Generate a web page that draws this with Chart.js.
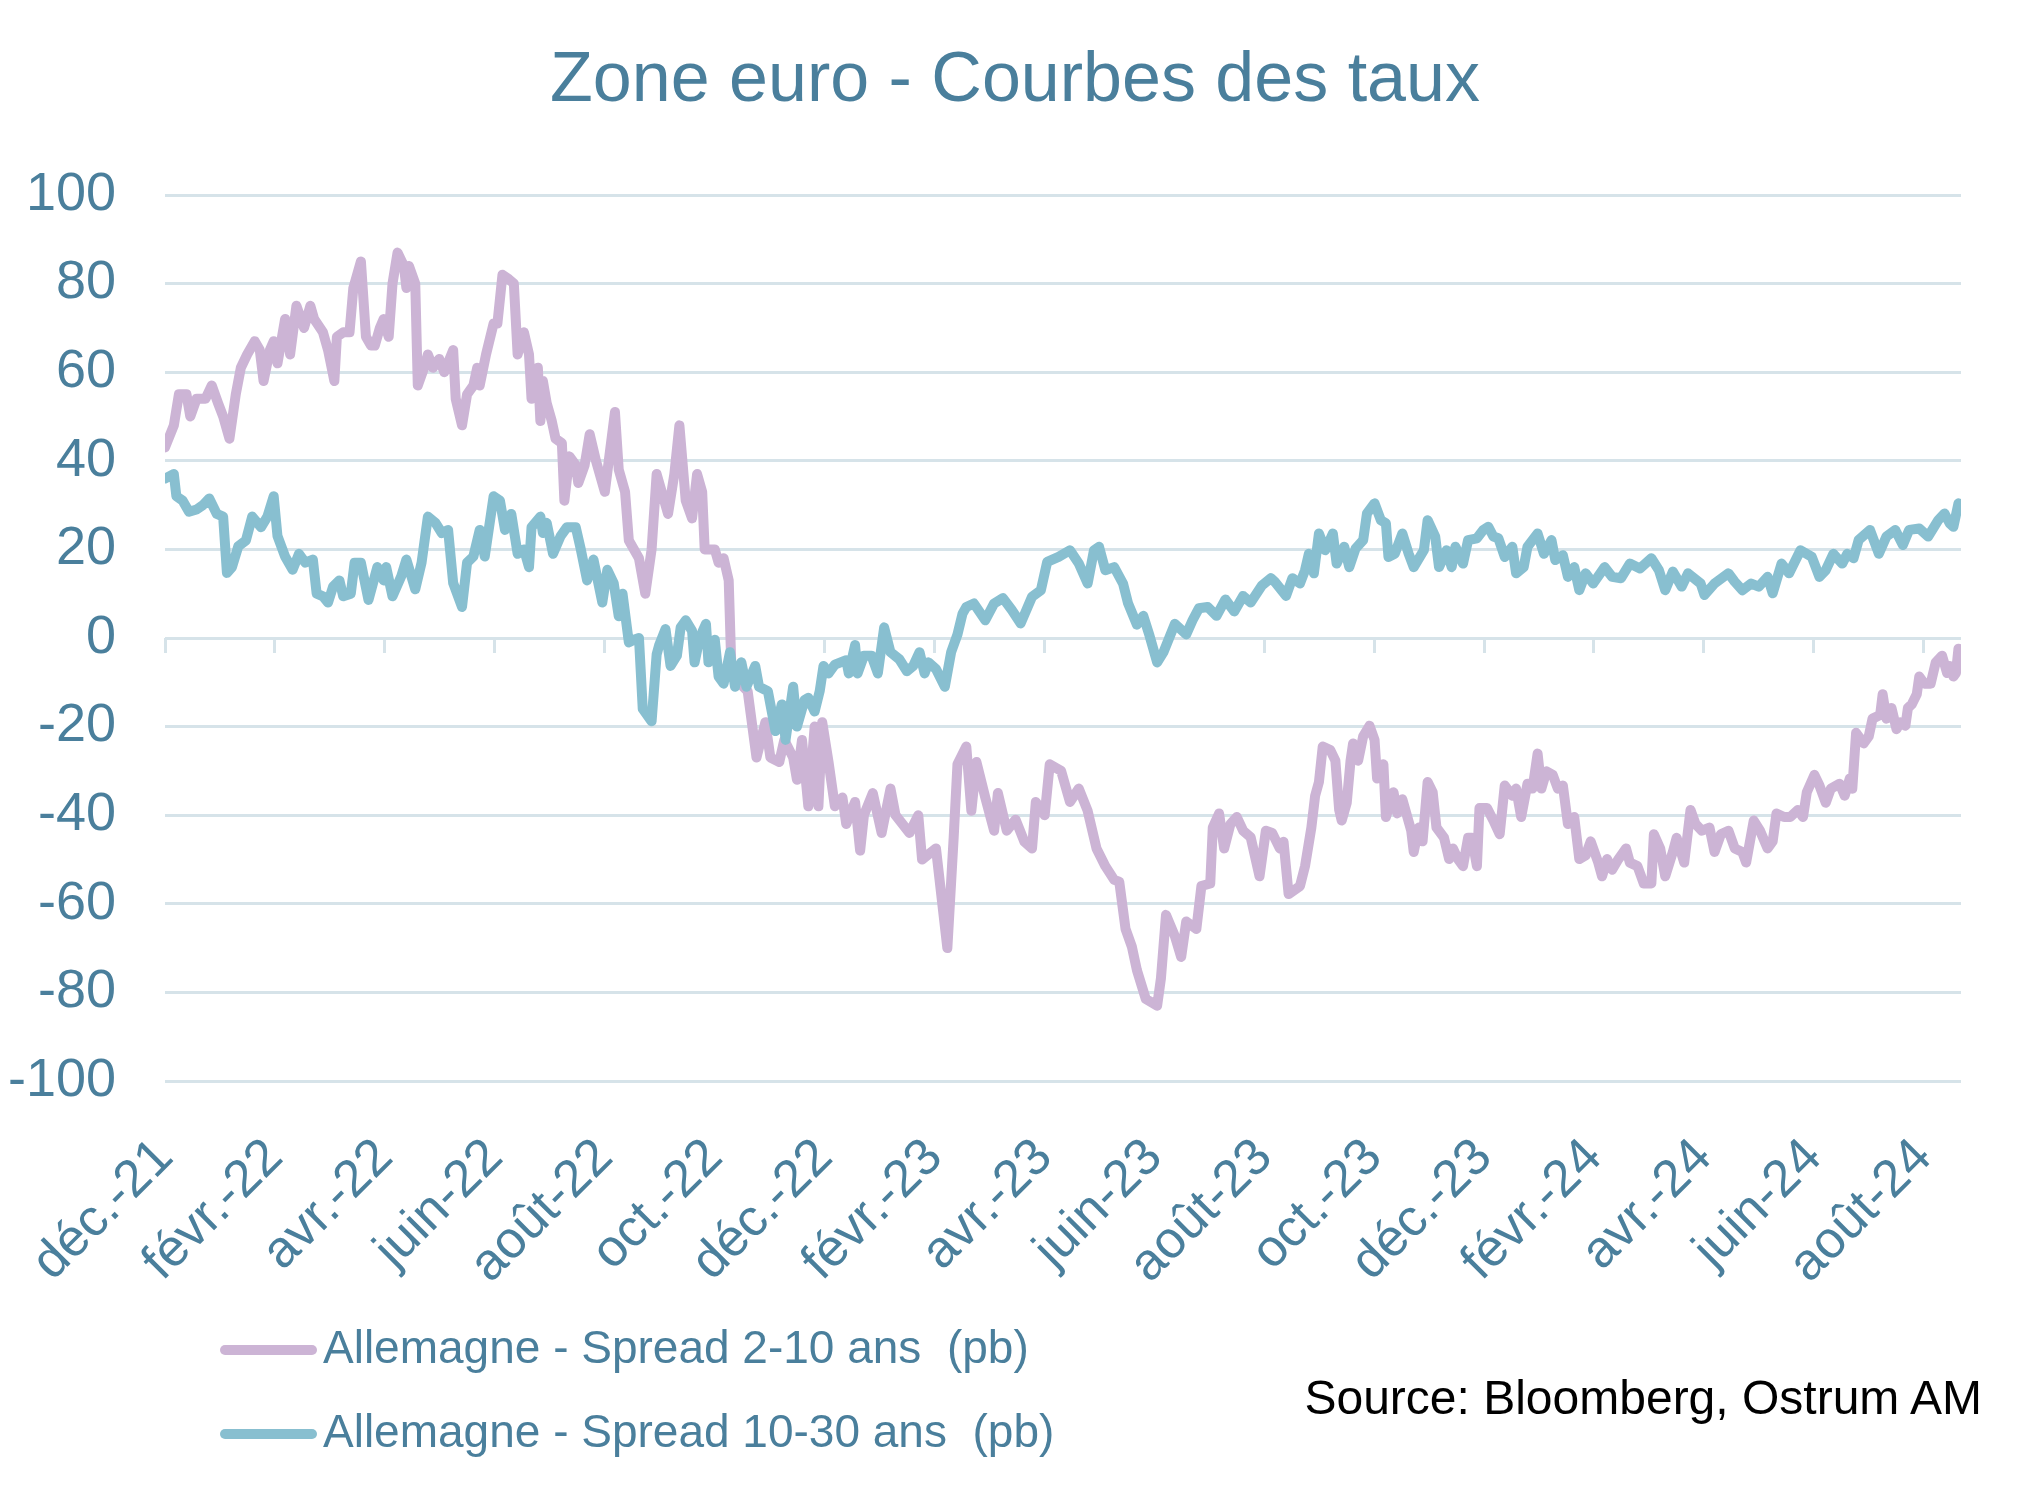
<!DOCTYPE html>
<html lang="fr">
<head>
<meta charset="utf-8">
<title>Zone euro - Courbes des taux</title>
<script src="https://cdn.jsdelivr.net/npm/chart.js@4.4.1/dist/chart.umd.min.js"></script>
<style>
  html, body { margin: 0; padding: 0; background: #ffffff; }
  #wrap { position: relative; width: 2030px; height: 1510px; overflow: hidden; }
  #myChart { position: absolute; left: 0; top: 0; }
  .legend-row { position: absolute; left: 220px; height: 46px; font-family: "Liberation Sans", Arial, sans-serif;
                font-size: 46px; line-height: 46px; color: #4a7f9c; white-space: pre; }
  .legend-line { position: absolute; left: 0; top: 21px; width: 97px; height: 10px; border-radius: 5px; }
  .legend-text { position: absolute; left: 103px; top: 0; }
  #source { position: absolute; right: 48px; top: 1374px; font-family: "Liberation Sans", Arial, sans-serif;
            font-size: 48px; line-height: 48px; color: #000000; white-space: nowrap; }
</style>
</head>
<body>
<div id="wrap">
  <canvas id="myChart" width="2030" height="1510"></canvas>
  <div id="legend"></div>
  <div id="source">Source: Bloomberg, Ostrum AM</div>
</div>
<script>
// libellés de l'axe des x (un tous les 2 mois)
var tickLabels = ['déc.-21', 'févr.-22', 'avr.-22', 'juin-22', 'août-22', 'oct.-22', 'déc.-22', 'févr.-23',
    'avr.-23', 'juin-23', 'août-23', 'oct.-23', 'déc.-23', 'févr.-24', 'avr.-24', 'juin-24', 'août-24'];

var seriesLabels = ['Allemagne - Spread 2-10 ans  (pb)', 'Allemagne - Spread 10-30 ans  (pb)'];

// Spread 2-10 ans : semaines depuis le 1er déc. 2021 et valeurs (pb)
var spread210Weeks = [0, 0.7, 1.1, 1.7, 2, 2.5, 3.2, 3.7, 4.2, 4.6,
    5.1, 5.6, 6, 6.5, 7.1, 7.5, 7.8, 8.3, 8.6, 8.9,
    9.2, 9.5, 9.9, 10.4, 11, 11.5, 11.8, 12.5, 12.9, 13.4,
    13.6, 14.1, 14.6, 14.9, 15.5, 15.9, 16.3, 16.6, 17, 17.3,
    17.7, 18, 18.4, 18.9, 19.1, 19.3, 19.8, 20, 20.5, 20.8,
    21.2, 21.7, 22.1, 22.8, 23, 23.5, 23.9, 24.4, 24.7, 24.9,
    25.4, 26, 26.3, 26.7, 27.2, 27.6, 27.9, 28.4, 28.8, 29,
    29.5, 29.7, 29.9, 30.2, 30.6, 30.9, 31.4, 31.6, 32, 32.5,
    32.7, 33.2, 33.6, 34.1, 34.8, 35.2, 35.6, 35.9, 36.4, 36.7,
    37.5, 38, 38.5, 38.9, 39.8, 40.3, 40.7, 41.2, 41.7, 42.1,
    42.5, 42.7, 43.5, 43.8, 44.2, 44.6, 44.8, 45.4, 46.1, 46.8,
    47.5, 47.9, 48.6, 49, 49.7, 50, 50.4, 50.9, 51.4, 51.7,
    52, 52.5, 53, 53.6, 53.9, 54.6, 55, 55.3, 56, 56.7,
    57.4, 57.8, 58.9, 59.6, 59.9, 61, 61.9, 62.4, 62.7, 63.4,
    63.8, 64.2, 64.9, 65.6, 65.9, 66.6, 67.3, 68, 68.6, 68.9,
    69.6, 70, 70.9, 71.6, 72.3, 73, 73.7, 74.4, 75.1, 75.5,
    76, 76.5, 76.9, 77.6, 78.5, 78.8, 79.2, 79.9, 80.4, 80.8,
    81.6, 82, 82.7, 82.9, 83.4, 83.8, 84.3, 84.8, 85.3, 85.9,
    86.6, 87.1, 87.6, 88.2, 88.5, 88.9, 89.8, 90.2, 90.7, 91,
    91.3, 91.6, 92.2, 92.6, 92.9, 93.1, 93.5, 93.8, 94, 94.4,
    94.8, 95.3, 95.7, 95.9, 96.4, 96.6, 97.2, 97.5, 97.9, 98.6,
    98.8, 99.2, 99.5, 99.9, 100.3, 100.6, 101.2, 101.6, 101.9, 102.3,
    102.7, 103.1, 103.4, 103.8, 104, 104.6, 105.1, 105.6, 106, 106.6,
    106.9, 107.3, 107.8, 108.2, 108.6, 108.9, 109.3, 109.8, 110.2, 110.6,
    111, 111.5, 111.9, 112.4, 112.8, 113.4, 113.7, 114.1, 114.5, 115,
    115.6, 115.9, 116.5, 117, 117.6, 117.8, 118.3, 118.7, 119.3, 119.6,
    120.2, 120.7, 121.1, 121.6, 122.2, 122.6, 123.1, 123.7, 124.2, 124.8,
    125.1, 125.7, 126.2, 126.8, 127.2, 127.5, 128.1, 128.6, 129.2, 129.6,
    129.9, 130.5, 130.9, 131.4, 131.8, 132.5, 132.9, 133.3, 133.5, 133.8,
    134.4, 134.8, 135.1, 135.7, 135.9, 136.2, 136.6, 137, 137.3, 137.7,
    137.9, 138.2, 138.6, 138.8, 139.2, 139.7, 140.1, 140.6, 141, 141.2,
    141.5, 141.7, 141.9];
var spread210 = [43, 48, 55, 55, 50, 54, 54, 57, 53, 50,
    45, 55, 61, 64, 67, 65, 58, 65, 67, 62,
    67, 72, 64, 75, 70, 75, 72, 69, 65, 58,
    68, 69, 69, 79, 85, 68, 66, 66, 70, 72,
    68, 80, 87, 84, 79, 84, 80, 57, 61, 64,
    61, 63, 60, 65, 54, 48, 55, 57, 61, 57,
    64, 71, 71, 82, 81, 80, 64, 69, 64, 54,
    61, 49, 58, 53, 49, 45, 44, 31, 41, 39,
    35, 39, 46, 40, 33, 42, 51, 38, 33, 22,
    18, 10, 20, 37, 28, 37, 48, 31, 27, 37,
    33, 20, 20, 17, 18, 13, -5.5, -10, -12, -27,
    -19, -27, -28, -23, -27, -32, -23, -38, -20, -38,
    -19, -28, -38, -36, -42, -37, -48, -40, -35, -44,
    -34, -40, -44, -40, -50, -47.5, -70, -45, -28.5, -24.5,
    -39, -28, -36, -43.5, -35, -43.5, -41, -46, -47.5, -37,
    -40, -28.5, -30, -37, -34, -39, -47.5, -51.5, -54.6, -55,
    -65.7, -69.7, -75, -81.5, -83, -76.8, -62.5, -67.3, -72, -64,
    -65.7, -56, -55.4, -42.8, -39.6, -47.5, -42, -40.4, -43.5, -45,
    -53.8, -43.5, -44, -47.5, -46, -57.8, -56, -51.5, -42.8, -35.6,
    -32.5, -24.5, -25.3, -27.7, -38.8, -41.2, -37.2, -27.7, -23.8, -27.7,
    -22.2, -19.8, -23, -31.7, -28.5, -40.4, -34.8, -39.6, -36.4, -43.5,
    -48.3, -42.8, -45.9, -32.5, -34.8, -42.8, -45.1, -49.9, -47.5, -49.9,
    -51.5, -45.1, -45.1, -51.5, -38.4, -38.4, -41.2, -44.3, -33.3, -35.6,
    -34, -40.4, -32.9, -34, -26.1, -34, -30.1, -30.9, -34, -33.3,
    -42, -40.4, -49.9, -49.1, -45.9, -50.7, -53.8, -49.9, -52.3, -49.9,
    -47.5, -50.7, -51.5, -55.4, -55.4, -44.3, -47.5, -53.8, -48.3, -45.1,
    -50.7, -38.8, -42, -43.5, -42.8, -48.3, -44.3, -43.5, -47.5, -48.3,
    -50.7, -41.2, -43.5, -47.5, -45.9, -39.6, -40.4, -40.4, -38.8, -40.4,
    -34.8, -30.9, -33.3, -37.2, -34, -32.9, -35.6, -31.7, -34, -21.4,
    -23.8, -22.2, -18.2, -17.4, -12.7, -18.2, -15.8, -20.6, -19, -19.8,
    -15.8, -15, -12.7, -8.7, -10.3, -10.3, -5.5, -4, -7.9, -6.3,
    -8.7, -7.9, -2.4];

// Spread 10-30 ans
var spread1030Weeks = [0, 0.7, 0.9, 1.4, 1.9, 2.5, 3, 3.5, 4.1, 4.6,
    4.9, 5.3, 5.8, 6.4, 6.9, 7.6, 8.1, 8.6, 8.9, 9.5,
    10.1, 10.6, 11.1, 11.7, 12, 12.5, 12.9, 13.3, 13.8, 14.1,
    14.7, 15, 15.5, 16.1, 16.8, 17.3, 17.5, 18, 18.7, 19.1,
    19.8, 20.3, 20.8, 21.4, 21.9, 22.4, 22.8, 23.5, 23.9, 24.4,
    24.9, 25.3, 26, 26.5, 26.9, 27.4, 27.9, 28.4, 28.8, 29,
    29.7, 29.9, 30.2, 30.7, 31.3, 31.8, 32.5, 32.9, 33.4, 33.9,
    34.6, 35, 35.5, 35.9, 36.2, 36.7, 37.1, 37.5, 37.8, 38.5,
    38.9, 39.1, 39.6, 40, 40.5, 40.8, 41.2, 41.7, 41.9, 42.3,
    42.8, 43, 43.5, 43.8, 44.2, 44.7, 45.1, 45.6, 46, 46.7,
    47, 47.7, 48.3, 48.8, 49.1, 49.7, 50, 50.6, 50.9, 51.4,
    51.8, 52.1, 52.5, 53, 53.9, 54.1, 54.6, 54.8, 55.3, 55.9,
    56.4, 56.9, 57.4, 58.1, 58.7, 59.2, 59.7, 60.1, 60.4, 61,
    61.7, 62.2, 62.7, 63.1, 63.4, 64, 64.9, 65.6, 66.3, 67,
    67.7, 68.6, 69.3, 69.8, 70.7, 71.6, 72.3, 73, 73.5, 73.9,
    74.4, 75.1, 75.8, 76.2, 76.9, 77.4, 77.9, 78.5, 79, 79.9,
    80.8, 81.3, 81.8, 82.5, 83.2, 83.9, 84.6, 85.3, 85.9, 86.8,
    87.5, 87.8, 88.7, 89.2, 89.8, 90.2, 90.5, 90.9, 91.3, 91.8,
    92.4, 92.7, 93.3, 93.7, 94.2, 94.8, 95.1, 95.7, 96.2, 96.6,
    96.8, 97.3, 97.9, 98.4, 98.8, 99.6, 99.9, 100.5, 100.8, 101.4,
    101.8, 102.1, 102.7, 103.1, 103.8, 104.3, 104.7, 105.1, 105.5, 106,
    106.6, 106.9, 107.5, 107.8, 108.6, 109.1, 109.7, 110, 110.6, 111,
    111.5, 111.9, 112.4, 113, 113.9, 114.5, 115.2, 115.9, 116.7, 117.6,
    118.2, 118.7, 119.3, 120, 120.5, 121.5, 121.8, 122.6, 123.7, 124.2,
    124.8, 125.5, 126.1, 126.8, 127.2, 127.9, 128.5, 129.4, 130.3, 130.9,
    131.4, 132, 132.7, 133.1, 133.6, 134, 134.9, 135.6, 136.2, 136.9,
    137.5, 138, 138.8, 139.5, 140.3, 140.8, 141.2, 141.5, 141.9];
var spread1030 = [36, 37, 32, 31, 28.5, 29, 30, 31.5, 28, 27.4,
    14.7, 16, 20.7, 22, 27.4, 25, 27.4, 32, 23, 18.4,
    15.4, 19, 17, 17.7, 10, 9.4, 8, 11.6, 13, 9.4,
    10, 17, 17, 8.6, 16, 13, 16, 9.4, 14, 17.7,
    11, 17, 27.4, 26, 23.7, 24.4, 12.4, 7, 17, 18.4,
    24.4, 18.4, 32, 31, 24.4, 28, 19, 20, 16, 25,
    27.4, 23.7, 26, 19, 23, 25, 25, 20, 13, 17.7,
    8, 15.4, 12.4, 4.9, 10, -1, -0.4, 0, -16, -18.8,
    -3.7, -1.6, 2, -6.3, -4, 2.4, 4, 1.6, -5.5, 0,
    3.2, -5.5, -0.4, -8.7, -10.3, -3.2, -11, -5.5, -11, -6.3,
    -11, -12, -21, -15, -23, -11, -20, -14, -13.5, -16.6,
    -12, -6.3, -8, -6, -5, -8, -1.6, -8, -4, -4,
    -8, 2.4, -3.2, -4.8, -7.5, -6.3, -3.2, -8, -5.5, -7,
    -11, -3.2, 0.8, 5.5, 7, 7.8, 4, 7.8, 9, 6.3,
    3.3, 9.3, 10.8, 17.2, 18.3, 19.8, 16.8, 12.3, 19.8, 20.6,
    15.3, 16, 12.3, 7.8, 3, 5, 0.5, -5.5, -3.2, 3.2,
    0.8, 4, 6.7, 7, 5, 8.7, 6, 9.5, 8, 11.9,
    13.5, 12.7, 9.5, 13.5, 12.3, 15.3, 19, 14.6, 23.6, 19.8,
    23.6, 16.8, 20.6, 16, 20.2, 22.1, 28.1, 30.4, 26.6, 25.9,
    18.3, 19, 23.6, 19, 16, 19.8, 26.6, 22.9, 16, 19.8,
    16, 20.6, 16.8, 22.1, 22.5, 24.4, 25.1, 22.9, 22.5, 18.3,
    20.6, 14.6, 16, 20.6, 23.6, 19, 22.1, 17.6, 18.7, 13.8,
    16, 10.8, 14.6, 12.3, 16, 13.8, 13.5, 16.8, 15.7, 18,
    15.3, 10.8, 15, 11.6, 14.6, 12.3, 9.7, 12.3, 14.6, 12.7,
    10.8, 12.3, 11.6, 13.8, 10.1, 16.8, 14.6, 19.8, 18.3, 13.8,
    15.3, 19, 16.8, 19, 18, 22.1, 24.4, 19, 22.9, 24.4,
    21, 24.4, 24.7, 22.9, 26.6, 28.1, 25.9, 25.1, 30.4];

var pinkColor = '#ccb4d5';
var blueColor = '#88bfd0';
var textColor = '#4a7f9c';
var gridColor = '#d6e3e9';
var fontFamily = '"Liberation Sans", Arial, sans-serif';

// 2 mois en semaines, pour placer les graduations
var weeksPerMonth = 30.44 / 7;
var monthTicks = tickLabels.map(function (l, i) { return i * 2 * weeksPerMonth; });
var lastWeek = 142.1;

function toPoints(xs, ys) {
    return xs.map(function (x, i) { return { x: x, y: ys[i] }; });
}

function setMonthTicks(scale) {
    scale.ticks = monthTicks.map(function (v) { return { value: v }; });
}

var ctx = document.getElementById('myChart');

var chart = new Chart(ctx, {
    type: 'line',
    data: {
        datasets: [{
            label: seriesLabels[0],
            data: toPoints(spread210Weeks, spread210),
            borderColor: pinkColor,
            backgroundColor: pinkColor,
            borderWidth: 10,
            pointRadius: 0,
            tension: 0,
            borderJoinStyle: 'round',
            borderCapStyle: 'round',
            xAxisID: 'x',
            order: 2
        }, {
            label: seriesLabels[1],
            data: toPoints(spread1030Weeks, spread1030),
            borderColor: blueColor,
            backgroundColor: blueColor,
            borderWidth: 10,
            pointRadius: 0,
            tension: 0,
            borderJoinStyle: 'round',
            borderCapStyle: 'round',
            xAxisID: 'x',
            order: 1
        }]
    },
    options: {
        responsive: false,
        animation: false,
        locale: 'en-US',
        layout: { padding: 0 },
        plugins: {
            legend: { display: false },
            tooltip: { enabled: false },
            title: {
                display: true,
                text: 'Zone euro - Courbes des taux',
                color: textColor,
                font: { family: fontFamily, size: 70, weight: 'normal', lineHeight: 1.2 },
                padding: { top: 40, bottom: 71 }
            }
        },
        scales: {
            x: {
                type: 'linear',
                position: 'bottom',
                min: 0,
                max: lastWeek,
                grid: { display: false },
                border: { display: false },
                afterBuildTicks: setMonthTicks,
                afterFit: function (scale) { scale.height = 429; },
                ticks: {
                    autoSkip: false,
                    minRotation: 45,
                    maxRotation: 45,
                    padding: 38,
                    color: textColor,
                    font: { family: fontFamily, size: 52 },
                    callback: function (value, index) { return tickLabels[index]; }
                }
            },
            // petites graduations sous la ligne du zéro
            xZero: {
                type: 'linear',
                axis: 'x',
                position: { y: 0 },
                min: 0,
                max: lastWeek,
                afterBuildTicks: setMonthTicks,
                grid: { drawOnChartArea: false, drawTicks: true, tickLength: 15, color: gridColor, lineWidth: 3 },
                border: { display: false },
                ticks: { display: false }
            },
            y: {
                min: -100,
                max: 100,
                afterFit: function (scale) { scale.width = 165; },
                grid: { color: gridColor, lineWidth: 3, drawTicks: false },
                border: { display: false },
                ticks: {
                    stepSize: 20,
                    padding: 49,
                    color: textColor,
                    font: { family: fontFamily, size: 54 }
                }
            },
            // axe vide à droite : réserve la marge droite, le titre reste centré sur la page
            yRight: {
                type: 'linear',
                axis: 'y',
                position: 'right',
                min: -100,
                max: 100,
                afterFit: function (scale) { scale.width = 69; },
                grid: { display: false },
                border: { display: false },
                ticks: { display: false }
            }
        }
    }
});

// légende en HTML, dans l'ordre des séries
var legendEl = document.getElementById('legend');
chart.data.datasets.forEach(function (ds, i) {
    var row = document.createElement('div');
    row.className = 'legend-row';
    row.style.top = (1324 + i * 84) + 'px';
    var line = document.createElement('span');
    line.className = 'legend-line';
    line.style.background = ds.borderColor;
    var txt = document.createElement('span');
    txt.className = 'legend-text';
    txt.textContent = ds.label;
    row.appendChild(line);
    row.appendChild(txt);
    legendEl.appendChild(row);
});
</script>
</body>
</html>
